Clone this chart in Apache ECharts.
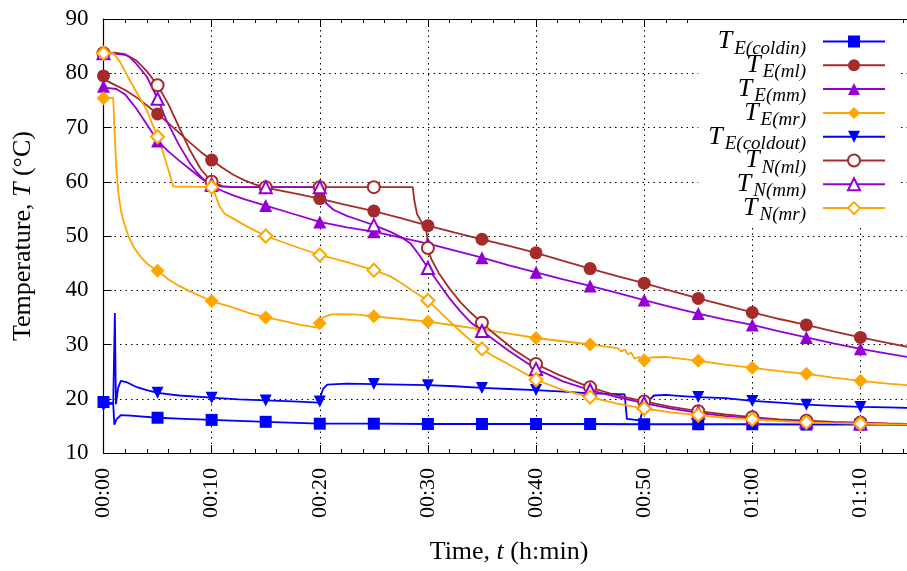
<!DOCTYPE html>
<html>
<head>
<meta charset="utf-8">
<script src="https://cdn.jsdelivr.net/npm/echarts@6/dist/echarts.min.js"></script>
<style>html,body{margin:0;padding:0;background:#fff}#c{width:907px;height:571px}</style>
</head>
<body>
<div id="c"></div>
<script>
// ---- data (time in minutes, temperature in °C) ----
const seriesNames = ['E(coldin)', 'E(ml)', 'E(mm)', 'E(mr)', 'E(coldout)', 'N(ml)', 'N(mm)', 'N(mr)'];
const xTickStep = 10;
const yTicks = [10, 20, 30, 40, 50, 60, 70, 80, 90];

const eColdin = [[0,19.4],[0.4,19.0],[0.9,19.1],[1.0,15.2],[1.2,16.2],[1.6,17.0],[2.5,16.9],[5,16.5],[7.5,16.3],[10,16.1],[15,15.75],[20,15.4],[25,15.4],[30,15.35],[35,15.35],[40,15.35],[45,15.35],[50,15.3],[55,15.3],[60,15.3],[65,15.25],[70,15.25],[75,15.2]];
const eMl = [[0,79.5],[0.3,78.6],[1,77.9],[2,76.9],[3,75.6],[4,74.1],[5,72.5],[6,70.8],[7,69.0],[8,67.2],[9,65.5],[10,64.0],[11,62.6],[12,61.3],[13,60.3],[14,59.5],[15,58.9],[16.5,58.3],[18,57.7],[20,56.9],[22,55.9],[25,54.6],[27.5,53.3],[30,51.9],[32.5,50.6],[35,49.4],[37.5,48.2],[40,46.9],[42.5,45.4],[45,44.0],[47.5,42.6],[50,41.3],[52.5,39.9],[55,38.5],[57.5,37.2],[60,35.9],[62.5,34.7],[65,33.6],[67.5,32.4],[70,31.3],[72.5,30.3],[75,29.3]];
const eMm = [[0,77.6],[0.3,77.3],[1.2,77.1],[2,76.1],[3,73.6],[4,70.6],[5,67.5],[6,65.6],[7,63.9],[8,62.3],[9,60.7],[10,59.3],[11,58.3],[12,57.5],[13,56.8],[14,56.2],[15,55.6],[17.5,54.1],[20,52.6],[22.5,51.6],[25,50.8],[27.5,49.7],[30,48.6],[32.5,47.3],[35,46.0],[37.5,44.6],[40,43.3],[42.5,42.0],[45,40.8],[47.5,39.5],[50,38.2],[52.5,36.9],[55,35.7],[57.5,34.6],[60,33.6],[62.5,32.4],[65,31.3],[67.5,30.2],[70,29.2],[72.5,28.3],[75,27.5]];
const eMr = [[0,75.4],[0.9,75.5],[1.05,68],[1.2,62],[1.4,57.5],[1.6,54.8],[1.9,52.4],[2.3,50.0],[2.8,47.9],[3.5,46.0],[4.2,44.6],[5,43.6],[6,42.0],[7,40.8],[8,39.8],[9,38.9],[10,38.0],[11,37.4],[12,36.8],[13.5,35.8],[15,35.0],[16.3,34.5],[18.2,33.6],[19.8,33.1],[20,33.9],[20.3,35.0],[21,35.5],[22,35.6],[23.5,35.5],[25,35.2],[27.5,34.7],[30,34.2],[32.5,33.5],[35,32.8],[37.5,32.0],[40,31.2],[42.5,30.6],[45,30.0],[46.5,29.6],[47.6,29.3],[47.9,28.7],[48.2,29.1],[48.5,28.2],[48.8,28.5],[49.1,27.4],[49.5,27.7],[50,27.1],[50.6,27.6],[52,27.7],[55,27.0],[57.5,26.3],[60,25.7],[62.5,25.1],[65,24.6],[67.5,23.9],[70,23.3],[72.5,22.8],[75,22.4]];
const eColdout = [[0,18.8],[0.3,19.3],[0.9,19.2],[0.95,19.3],[1.05,35.8],[1.15,19.0],[1.35,22.0],[1.6,23.3],[2.2,23.0],[3,22.2],[4,21.6],[5,21.1],[7,20.6],[10,20.2],[12.5,19.9],[15,19.7],[17.5,19.5],[19.9,19.3],[20,19.5],[20.3,21.8],[20.7,22.6],[22.5,22.8],[25,22.7],[27.5,22.6],[30,22.5],[32.5,22.3],[35,22.0],[37.5,21.8],[40,21.6],[42.5,21.3],[45,21.0],[47,20.9],[48.2,20.8],[48.4,16.3],[49.6,16.0],[50,18.8],[50.5,19.8],[50.9,20.6],[52,20.7],[53.5,20.5],[55,20.3],[57.5,20.1],[60,19.6],[62.5,19.3],[65,18.9],[67.5,18.7],[70,18.5],[72.5,18.4],[75,18.3]];
const nMl = [[0,83.7],[1,83.8],[2,83.5],[3,82.4],[4,80.4],[5,77.8],[6,74.3],[7,70.0],[8,65.8],[9,62.3],[10,60.0],[11,59.2],[12,59.0],[15,59.0],[20,59.0],[25,59.0],[28.6,59.0],[28.75,56.5],[29.0,54.0],[29.4,52.6],[29.8,51.8],[29.95,49.5],[30,47.8],[30.3,45.8],[31,43.2],[32,40.3],[33,37.8],[34,35.8],[35,34.0],[36,32.2],[38,29.0],[40,26.4],[42,24.5],[45,22.1],[47.5,20.6],[50,19.5],[52.5,18.5],[55,17.7],[57.5,17.1],[60,16.6],[62.5,16.2],[65,15.95],[67.5,15.75],[70,15.6],[72.5,15.45],[75,15.35]];
const nMm = [[0,83.7],[1,83.6],[2,83.4],[2.4,83.0],[3,81.8],[4,79.4],[5,75.3],[5.8,71.4],[7,66.7],[8,63.4],[8.6,61.8],[9.3,60.3],[10,59.5],[11,59.1],[12,59.0],[15,59.0],[20,59.0],[20.3,58.5],[20.6,56.0],[21.3,54.8],[22.5,53.7],[23.7,52.9],[25,52.0],[26.5,50.8],[27.5,49.8],[28.4,48.6],[29.2,46.5],[30,44.1],[31,41.3],[32,38.5],[33,36.1],[34,34.0],[35,32.5],[37.5,28.8],[40,25.5],[42.5,23.2],[45,21.6],[47.5,20.3],[50,19.2],[52.5,18.2],[55,17.4],[57.5,16.8],[60,16.4],[62.5,16.0],[65,15.8],[67.5,15.6],[70,15.45],[72.5,15.35],[75,15.3]];
const nMr = [[0,83.7],[0.9,83.7],[1.5,82.2],[2.4,78.8],[3.2,76.0],[4,73.2],[5,68.3],[5.5,65.5],[6,62.2],[6.45,59.1],[8,59.1],[10,59.0],[10.3,57.8],[10.7,55.6],[11.2,54.1],[12,53.2],[13.5,51.5],[15,50.0],[17.5,48.2],[20,46.5],[22.5,45.2],[25,43.7],[26.5,42.6],[27.5,41.4],[28.5,40.0],[29.3,39.0],[30,38.1],[31,36.2],[32,34.3],[33,32.4],[34,30.7],[35,29.2],[36,27.9],[37.5,26.3],[40,23.5],[42.5,21.6],[45,20.3],[47.5,19.1],[50,18.2],[52.5,17.5],[55,17.0],[57.5,16.5],[60,16.2],[62.5,15.9],[65,15.65],[67.5,15.5],[70,15.4],[72.5,15.3],[75,15.25]];

// ---- styling ----
const BLUE = '#0000ff', BROWN = '#a52a2a', PURPLE = '#9400d3', ORANGE = '#ffa500';
const FONT = 'Liberation Serif';
const triDown = 'path://M0,0L10,0L5,9Z';
const styles = [
  {data: eColdin, color: BLUE, symbol: 'rect', size: 12},
  {data: eMl, color: BROWN, symbol: 'circle', size: 13},
  {data: eMm, color: PURPLE, symbol: 'triangle', size: 13},
  {data: eMr, color: ORANGE, symbol: 'diamond', size: 14},
  {data: eColdout, color: BLUE, symbol: triDown, size: 12},
  {data: nMl, color: BROWN, symbol: 'emptyCircle', size: 12},
  {data: nMm, color: PURPLE, symbol: 'emptyTriangle', size: 12},
  {data: nMr, color: ORANGE, symbol: 'emptyDiamond', size: 13}
];

function withMarkers(pts) {
  return pts.map(p => {
    const isMark = Math.abs(p[0] / 5 - Math.round(p[0] / 5)) < 1e-9 && p[0] < 74;
    return isMark ? {value: p} : {value: p, symbol: 'none'};
  });
}

const series = styles.map((s, i) => ({
  name: seriesNames[i],
  type: 'line',
  data: withMarkers(s.data),
  symbol: s.symbol,
  symbolSize: s.size,
  showAllSymbol: true,
  color: s.color,
  lineStyle: {color: s.color, width: 1.8},
  itemStyle: {color: s.color, borderColor: s.color, borderWidth: s.symbol.indexOf('empty') === 0 ? 1.8 : 0},
  clip: true,
  animation: false
}));

function fmtTime(v) {
  const h = Math.floor(v / 60), m = Math.round(v % 60);
  return String(h).padStart(2, '0') + ':' + String(m).padStart(2, '0');
}

const chart = echarts.init(document.getElementById('c'), null, {renderer: 'canvas'});
chart.setOption({
  animation: false,
  backgroundColor: '#fff',
  grid: {left: 103.5, top: 19, width: 811, height: 434, containLabel: false, outerBoundsMode: 'none'},
  legend: {
    data: seriesNames,
    orient: 'vertical',
    right: 10,
    top: 20,
    align: 'right',
    itemWidth: 62,
    itemHeight: 15,
    itemGap: -9.2,
    padding: [5, 11, 0, 10],
    backgroundColor: '#fff',
    selectedMode: false,
    formatter: name => '{t|T}{s|' + name + '}',
    textStyle: {
      fontFamily: FONT, color: '#000',
      rich: {
        t: {fontFamily: FONT, fontStyle: 'italic', fontSize: 26, lineHeight: 20, color: '#000', padding: [0, 2, 0, 0]},
        s: {fontFamily: FONT, fontStyle: 'italic', fontSize: 19, lineHeight: 20, color: '#000', padding: [14, 12, 0, 0]}
      }
    }
  },
  xAxis: [{
    type: 'value', min: 0, max: 75, interval: xTickStep, position: 'bottom',
    name: 'Time, {i|t} (h:min)', nameLocation: 'middle', nameGap: 86,
    nameTextStyle: {fontFamily: FONT, fontSize: 26, color: '#000',
      rich: {i: {fontFamily: FONT, fontSize: 26, fontStyle: 'italic', color: '#000'}}},
    axisLine: {show: true, onZero: false, lineStyle: {color: '#000', width: 1.2}},
    axisTick: {show: true, inside: true, length: 8, lineStyle: {color: '#000'}},
    minorTick: {show: true, splitNumber: 5, length: 4, lineStyle: {color: '#000'}},
    axisLabel: {rotate: 90, margin: 15, fontFamily: FONT, fontSize: 22, color: '#000',
      showMaxLabel: false, formatter: fmtTime},
    splitLine: {show: true, lineStyle: {color: '#000', width: 1, type: [1.5, 4]}}
  }, {
    type: 'value', min: 0, max: 75, interval: xTickStep, position: 'top',
    axisLine: {show: true, onZero: false, lineStyle: {color: '#000', width: 1.2}},
    axisTick: {show: true, inside: true, length: 8, lineStyle: {color: '#000'}},
    minorTick: {show: true, splitNumber: 5, length: 4, lineStyle: {color: '#000'}},
    axisLabel: {show: false},
    splitLine: {show: false}
  }],
  yAxis: {
    type: 'value', min: yTicks[0], max: yTicks[yTicks.length - 1], interval: 10,
    name: 'Temperature, {i|T} (°C)', nameLocation: 'middle', nameGap: 67,
    nameTextStyle: {fontFamily: FONT, fontSize: 26, color: '#000',
      rich: {i: {fontFamily: FONT, fontSize: 26, fontStyle: 'italic', color: '#000'}}},
    axisLine: {show: true, onZero: false, lineStyle: {color: '#000', width: 1.2}},
    axisTick: {show: true, inside: true, length: 8, lineStyle: {color: '#000'}},
    axisLabel: {margin: 15, fontFamily: FONT, fontSize: 23, color: '#000'},
    splitLine: {show: true, lineStyle: {color: '#000', width: 1, type: [1.5, 4]}}
  },
  series: series
});
</script>
</body>
</html>
